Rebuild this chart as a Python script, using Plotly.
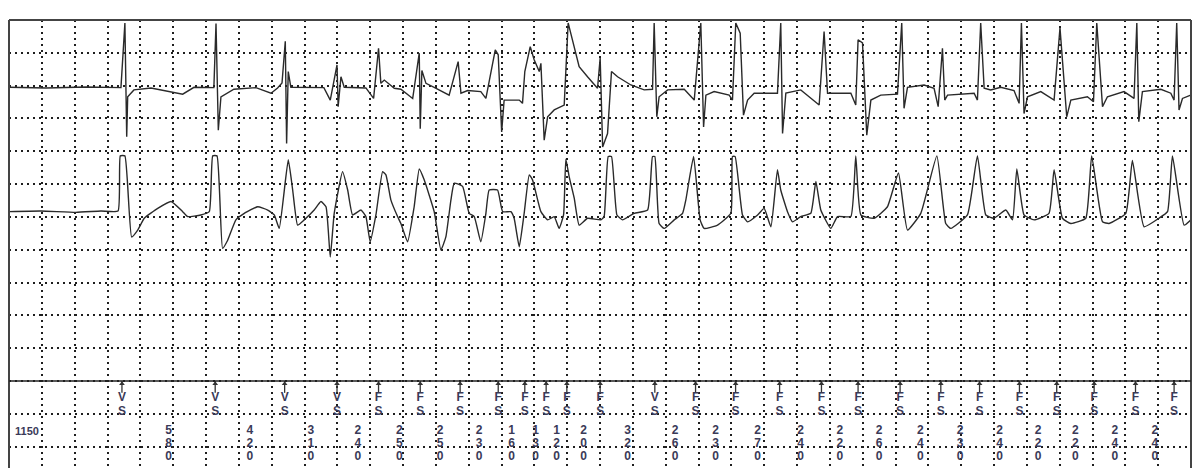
import plotly.graph_objects as go

# two electrogram channels: time in ms, amplitude in grid divisions
ch1 = [
    (0, 0.00), (225, -0.02), (469, 0.01), (682, -0.01), (706, 1.96), (717, -1.51), (723, -0.29),
    (761, -0.08), (865, -0.02), (1058, -0.21), (1127, 0.00), (1248, -0.01), (1261, 1.94),
    (1275, -1.31), (1291, -0.29), (1370, -0.06), (1504, -0.01), (1596, -0.18), (1636, -0.02),
    (1663, 0.13), (1683, 1.40), (1691, -1.71), (1701, 0.48), (1717, 0.00), (1918, -0.01),
    (1957, -0.39), (1998, 0.68), (2005, -0.59), (2022, 0.32), (2042, 0.00), (2174, -0.02),
    (2221, -0.34), (2251, 1.19), (2265, 0.12), (2286, 0.22), (2347, -0.03), (2387, -0.06),
    (2459, -0.34), (2499, 1.04), (2505, -1.26), (2515, 0.51), (2540, 0.12), (2590, 0.00),
    (2681, -0.24), (2736, 0.78), (2753, -0.18), (2794, -0.10), (2874, -0.13), (2905, -0.34),
    (2935, 0.43), (2962, 1.14), (2980, 0.99), (3001, -1.36), (3016, -0.39), (3108, -0.39),
    (3128, -0.49), (3142, 0.48), (3175, 1.24), (3199, 0.84), (3230, 0.48), (3240, 0.73),
    (3260, -1.61), (3281, -0.90), (3321, -0.69), (3382, -0.54), (3406, 1.96), (3433, 1.45),
    (3473, 0.63), (3524, 0.32), (3585, -0.03), (3601, 0.89), (3616, -1.82), (3646, -1.41),
    (3656, -0.69), (3670, 0.48), (3707, 0.32), (3788, 0.07), (3869, -0.08), (3920, -0.06),
    (3930, 1.96), (3946, -0.90), (3960, -0.29), (4012, -0.08), (4113, -0.06), (4174, -0.39),
    (4214, 1.96), (4231, -1.21), (4245, -0.24), (4295, -0.13), (4387, -0.24), (4407, -0.39),
    (4427, 1.96), (4454, 1.65), (4474, -0.85), (4499, -0.39), (4539, -0.18), (4681, -0.18),
    (4701, 1.96), (4712, -1.41), (4732, -0.18), (4823, -0.08), (4935, -0.54), (4965, 1.70),
    (4986, -0.18), (5128, -0.18), (5158, -0.54), (5172, 1.45), (5199, 1.35), (5225, -1.46),
    (5250, -0.39), (5310, -0.24), (5412, -0.21), (5438, 1.96), (5452, -0.64), (5473, 0.00),
    (5574, 0.07), (5635, -0.03), (5660, -0.59), (5686, 1.19), (5700, -0.39), (5717, -0.24),
    (5879, -0.18), (5899, -0.39), (5919, 1.96), (5940, -0.03), (5980, -0.08), (6041, 0.00),
    (6122, -0.10), (6153, -0.49), (6167, 1.96), (6183, -0.80), (6204, -0.29), (6285, -0.13),
    (6366, -0.39), (6402, 1.81), (6443, -0.90), (6468, -0.39), (6569, -0.29), (6606, -0.44),
    (6626, 1.96), (6661, -0.59), (6691, -0.29), (6792, -0.13), (6853, -0.34), (6870, 1.96),
    (6882, -1.05), (6904, -0.13), (7016, -0.06), (7077, -0.18), (7097, -0.39), (7113, 1.96),
    (7127, -0.69), (7148, -0.34), (7198, -0.24),
]

ch2 = [
    (0, 0.00), (195, 0.02), (408, -0.02), (560, 0.02), (664, 0.02), (678, 1.70), (706, 1.70),
    (747, -0.77), (784, -0.56), (824, -0.20), (906, 0.10), (987, 0.31), (1058, 0.00),
    (1088, -0.15), (1169, -0.10), (1220, 0.00), (1241, 1.70), (1267, 1.70), (1301, -1.12),
    (1332, -0.87), (1382, -0.25), (1433, -0.05), (1515, 0.15), (1576, 0.05), (1616, -0.10),
    (1646, -0.51), (1701, 1.58), (1728, 0.66), (1758, -0.41), (1798, -0.25), (1859, 0.05),
    (1900, 0.31), (1931, 0.15), (1957, -1.38), (1981, -0.05), (2032, 1.22), (2063, 0.66),
    (2093, -0.10), (2144, 0.05), (2174, -0.15), (2200, -0.92), (2235, -0.10), (2276, 1.22),
    (2296, 1.12), (2326, 0.36), (2367, -0.15), (2387, -0.36), (2428, -0.92), (2468, 0.15),
    (2499, 1.30), (2529, 0.97), (2590, 0.00), (2631, -1.17), (2661, -0.77), (2692, 0.36),
    (2712, 0.87), (2763, 0.77), (2803, -0.05), (2834, -0.15), (2874, -0.92), (2905, -0.05),
    (2925, 0.66), (2976, 0.66), (3007, 0.00), (3057, 0.00), (3077, -0.20), (3108, -1.07),
    (3138, -0.05), (3169, 1.12), (3189, 0.97), (3240, 0.00), (3281, -0.25), (3321, -0.15),
    (3351, -0.51), (3378, -0.10), (3392, 1.60), (3412, 1.07), (3443, 0.41), (3473, -0.41),
    (3524, -0.20), (3605, -0.25), (3625, -0.15), (3650, 1.68), (3670, 1.68), (3703, -0.10),
    (3737, -0.25), (3808, -0.05), (3890, 0.05), (3920, 1.68), (3934, 1.68), (3960, -0.36),
    (3991, -0.51), (4052, -0.25), (4103, -0.05), (4123, 0.36), (4170, 1.68), (4210, -0.25),
    (4234, -0.51), (4316, -0.41), (4397, -0.05), (4407, 1.68), (4423, 1.68), (4468, -0.10),
    (4499, -0.31), (4560, -0.10), (4600, 0.10), (4641, -0.46), (4681, 1.28), (4701, 0.66),
    (4742, 0.00), (4773, -0.31), (4823, -0.15), (4884, -0.05), (4915, 0.92), (4945, 0.05),
    (5006, -0.51), (5047, -0.15), (5128, -0.15), (5158, 1.70), (5189, -0.10), (5270, -0.20),
    (5351, 0.15), (5418, 1.18), (5473, -0.56), (5554, -0.05), (5652, 1.70), (5706, -0.36),
    (5737, -0.51), (5838, -0.10), (5899, 1.70), (5950, -0.10), (6000, -0.20), (6072, 0.05),
    (6113, -0.25), (6139, 1.30), (6183, -0.10), (6244, -0.25), (6335, -0.05), (6366, 1.28),
    (6417, -0.20), (6468, -0.36), (6559, -0.20), (6595, 1.70), (6661, -0.31), (6701, -0.36),
    (6803, -0.05), (6843, 1.56), (6914, -0.46), (7005, -0.20), (7057, 0.00), (7087, 1.70),
    (7158, -0.41), (7209, -0.20),
]

# event markers (ms) and their labels
event_t = [688, 1256, 1679, 1998, 2251, 2505, 2748, 2980, 3142, 3272, 3398, 3601, 3934,
           4182, 4426, 4694, 4949, 5172, 5428, 5676, 5912, 6155, 6382, 6610, 6862, 7097]
event_lbl = ["VS", "VS", "VS", "VS", "FS", "FS", "FS", "FS", "FS", "FS", "FS", "FS", "VS",
             "FS", "FS", "FS", "FS", "FS", "FS", "FS", "FS", "FS", "FS", "FS", "FS", "FS"]

# intervals between events (ms)
intervals = [580, 420, 310, 240, 250, 250, 230, 160, 130, 120, 200, 320, 260,
             230, 270, 240, 220, 260, 240, 230, 240, 220, 220, 240, 240]
prev_interval = 1150

trace_col = "#2a2a2a"
text_col = "#3a3a58"
grid_col = "#1e1e1e"
lab_font = dict(family="Liberation Sans", size=12, color=text_col, weight="bold")

fig = go.Figure()

t1, v1 = zip(*ch1)
t2, v2 = zip(*ch2)
fig.add_trace(go.Scatter(x=t1, y=v1, yaxis="y2", mode="lines",
                         line=dict(color=trace_col, width=1.4)))
fig.add_trace(go.Scatter(x=t2, y=v2, yaxis="y3", mode="lines",
                         line=dict(color=trace_col, width=1.4, shape="spline", smoothing=0.4)))

# marker stems with small arrow heads
sx, sy = [], []
for t in event_t:
    sx += [t, t, None]
    sy += [-11, -11.36, None]
fig.add_trace(go.Scatter(x=sx, y=sy, mode="lines", line=dict(color="#333333", width=1.3)))
fig.add_trace(go.Scatter(x=event_t, y=[-11.08] * len(event_t), mode="markers",
                         marker=dict(symbol="triangle-up", size=5, color="#333333")))

# stacked letters under each marker
for row, yy in enumerate([-11.52, -11.95]):
    fig.add_trace(go.Scatter(x=event_t, y=[yy] * len(event_t), mode="text",
                             text=[s[row] for s in event_lbl], textfont=lab_font))

# interval values written vertically between markers
mids = [(a + b) / 2 for a, b in zip(event_t[:-1], event_t[1:])]
for row, yy in enumerate([-12.52, -12.91, -13.30]):
    fig.add_trace(go.Scatter(x=mids, y=[yy] * len(mids), mode="text",
                             text=[str(v)[row] for v in intervals], textfont=lab_font))

fig.add_annotation(x=25, y=-12.52, text=str(prev_interval), showarrow=False,
                   xanchor="left", font=dict(family="Liberation Sans", size=11,
                                             color=text_col, weight="bold"))

# frame and channel separator
frame = dict(color="#444444", width=2)
fig.add_shape(type="line", xref="paper", yref="paper", x0=0, x1=0, y0=0, y1=1, line=frame)
fig.add_shape(type="line", xref="paper", yref="paper", x0=0, x1=1, y0=1, y1=1, line=frame)
fig.add_shape(type="line", xref="paper", yref="paper", x0=1, x1=1, y0=0, y1=1, line=frame)
fig.add_shape(type="line", xref="paper", yref="y", x0=0, x1=1, y0=-11, y1=-11,
              line=dict(color="#222222", width=1.6))

grid = dict(showgrid=True, gridcolor=grid_col, griddash="2px,4px", gridwidth=1.6,
            showticklabels=False, zeroline=False, ticks="", showline=False)

# the page adds an 8px body margin, so the figure itself is a bit smaller
fig.update_layout(
    width=1193, height=460,
    margin=dict(l=1, r=10, t=12, b=0),
    paper_bgcolor="white", plot_bgcolor="white",
    showlegend=False, hovermode=False,
    xaxis=dict(range=[0, 7200], tick0=0, dtick=200, **grid),
    yaxis=dict(range=[-13.65, 0], tick0=0, dtick=1, **grid),
    yaxis2=dict(overlaying="y", range=[-11.60, 2.05], visible=False),
    yaxis3=dict(overlaying="y", range=[-7.81, 5.84], visible=False),
)

fig.write_html("out.html")
